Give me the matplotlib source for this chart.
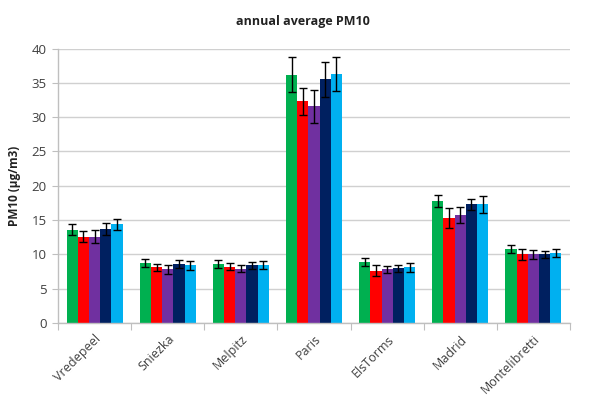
import matplotlib
matplotlib.use("Agg")
import matplotlib.pyplot as plt
import numpy as np

plt.rcParams['font.family'] = ['Open Sans', 'DejaVu Sans']

sites = ["Vredepeel", "Sniezka", "Melpitz", "Paris", "ElsTorms", "Madrid", "Montelibretti"]

s1 = [13.6, 8.7, 8.6, 36.2, 8.9, 17.8, 10.8]
s2 = [12.6, 8.1, 8.2, 32.3, 7.6, 15.3, 10.0]
s3 = [12.6, 7.8, 7.9, 31.6, 7.8, 15.7, 10.0]
s4 = [13.7, 8.6, 8.4, 35.5, 8.0, 17.3, 10.0]
s5 = [14.4, 8.4, 8.5, 36.3, 8.1, 17.3, 10.2]

e1 = [0.8, 0.6, 0.55, 2.55, 0.6, 0.85, 0.55]
e2 = [0.85, 0.55, 0.5, 2.0, 0.8, 1.45, 0.8]
e3 = [1.0, 0.6, 0.5, 2.4, 0.5, 1.2, 0.65]
e4 = [0.9, 0.55, 0.55, 2.55, 0.5, 0.8, 0.55]
e5 = [0.8, 0.7, 0.6, 2.45, 0.6, 1.2, 0.55]

values = [s1, s2, s3, s4, s5]
errors = [e1, e2, e3, e4, e5]
colors = ["#00B050", "#FF0000", "#7030A0", "#002060", "#00B0F0"]

fig = plt.figure(figsize=(6.05, 4.03), dpi=100)
ax = fig.add_axes([58/605, 1 - 323/403, 512/605, 274.5/403])

x = np.arange(len(sites))
n = len(values)
bw = 0.153
for i, (v, e, c) in enumerate(zip(values, errors, colors)):
    pos = x + (i - (n - 1) / 2) * bw
    ax.bar(pos, v, width=bw, color=c, edgecolor='none', zorder=2)
    ax.errorbar(pos, v, yerr=e, fmt='none', ecolor='black', elinewidth=1.0,
                capsize=3, capthick=1.0, zorder=3)

ax.set_xlim(-0.5, len(sites) - 0.5)
ax.set_ylim(0, 40)
ax.set_yticks(np.arange(0, 41, 5))
ax.yaxis.grid(True, color='#D0D0D0', linewidth=1.0, zorder=0)
ax.set_axisbelow(True)

for side in ['top', 'right']:
    ax.spines[side].set_visible(False)
for side in ['left', 'bottom']:
    ax.spines[side].set_color('#BFBFBF')
    ax.spines[side].set_linewidth(1.0)

ax.set_xticks(np.arange(-0.5, len(sites), 1.0))
ax.set_xticklabels([])
ax.tick_params(axis='x', which='major', length=5, color='#BFBFBF', direction='out')
ax.set_xticks(x, minor=True)
ax.set_xticklabels(sites, minor=True, rotation=45, ha='right', va='top',
                   rotation_mode='anchor', fontsize=9, color='#404040')
ax.tick_params(axis='x', which='minor', length=0, pad=7)
ax.tick_params(axis='y', length=4, color='#BFBFBF', labelsize=9.5, labelcolor='#404040', pad=4)

ax.set_ylabel("PM10 (µg/m3)", fontsize=8.5, fontweight='bold', color='#222222', labelpad=8)
fig.text(0.5, 1 - 22/403, "annual average PM10", ha='center', va='center',
         fontsize=9, fontweight='bold', color='#222222')

fig.savefig("out.png", dpi=100)
